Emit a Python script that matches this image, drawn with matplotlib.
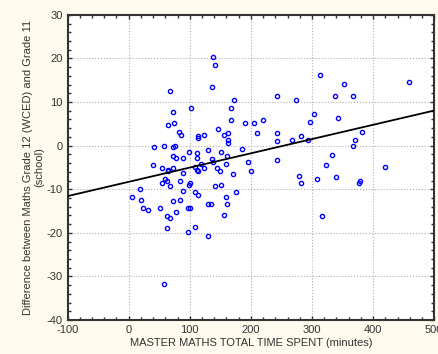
import numpy as np
import matplotlib.pyplot as plt
from matplotlib.ticker import MultipleLocator

plt.rcParams['font.family'] = ['Liberation Sans', 'DejaVu Sans']
plt.rcParams['axes.unicode_minus'] = False

# total time spent (minutes)
time_spent = [138, 141, 136, 67, 313, 353, 459, 242, 274, 338, 367, 173, 102, 168,
              72, 303, 168, 220, 342, 74, 65, 190, 205, 296, 146, 82, 86, 124, 114,
              114, 156, 163, 163, 163, 210, 242, 242, 267, 282, 293, 371, 382, 42,
              57, 72, 75, 367, 99, 129, 151, 186, 112, 112, 72, 77, 89, 161, 136,
              138, 118, 159, 242, 195, 333, 323, 40, 55, 72, 65, 65, 109, 112, 114,
              124, 144, 149, 89, 171, 200, 420, 279, 308, 340, 60, 62, 55, 84, 99,
              101, 67, 151, 141, 282, 379, 377, 18, 89, 109, 114, 175, 159, 5, 20,
              84, 72, 129, 134, 161, 23, 31, 52, 97, 101, 77, 62, 67, 156, 316, 62,
              109, 97, 129, 57]
# grade 12 minus grade 11 difference
grade_diff = [20.4, 18.4, 13.5, 12.5, 16.2, 14.2, 14.5, 11.4, 10.4, 11.4, 11.4, 10.4,
              8.6, 8.6, 7.7, 7.3, 5.9, 5.9, 6.3, 5.2, 4.8, 5.2, 5.2, 5.5, 3.8, 3.1,
              2.4, 2.4, 2.1, 1.8, 2.4, 2.8, 1.4, 0.7, 2.8, 2.8, 1.1, 1.4, 2.1, 1.4,
              1.4, 3.1, -0.3, 0.0, -0.3, 0.0, 0.0, -1.4, -1.0, -1.4, -0.7, -1.7,
              -2.8, -2.4, -2.8, -2.8, -2.4, -3.1, -3.8, -4.1, -4.1, -3.4, -3.8, -2.1,
              -4.5, -4.5, -5.2, -5.2, -5.5, -5.9, -4.8, -5.5, -5.9, -5.2, -5.2, -5.9,
              -6.2, -6.6, -5.9, -4.8, -6.9, -7.6, -7.3, -7.7, -8.0, -8.6, -8.0, -9.0,
              -8.6, -9.3, -9.0, -9.3, -8.6, -8.0, -8.6, -10.0, -10.4, -10.7, -11.4,
              -10.7, -11.8, -11.8, -12.5, -12.5, -12.8, -13.5, -13.5, -13.5, -14.2,
              -14.8, -14.2, -14.2, -14.2, -15.2, -16.2, -16.6, -15.9, -16.2, -19.0,
              -18.7, -19.7, -20.7, -31.8]

# fitted line
fit_intercept = -8.3
fit_slope = 0.0327

fig = plt.figure(figsize=(4.39, 3.54), dpi=100, facecolor='#fffaee')
ax = fig.add_axes([0.154, 0.096, 0.835, 0.862])

ax.plot(time_spent, grade_diff, 'o', ms=3.0, mfc='none', mec='#0000ff', mew=1.0, zorder=3)

xs = np.array([-100, 500])
ax.plot(xs, fit_intercept + fit_slope * xs, color='black', lw=1.3, zorder=4)

ax.set_xlim(-100, 500)
ax.set_ylim(-40, 30)
ax.xaxis.set_major_locator(MultipleLocator(100))
ax.xaxis.set_minor_locator(MultipleLocator(20))
ax.yaxis.set_major_locator(MultipleLocator(10))
ax.yaxis.set_minor_locator(MultipleLocator(2))
ax.tick_params(which='both', direction='in', top=True, right=True, labelsize=8,
               colors='#333333', width=1.0)
ax.tick_params(which='major', length=3)
ax.tick_params(which='minor', length=2)
ax.grid(True, which='major', linestyle=':', color='#b0b0b0', lw=0.8)
for s in ax.spines.values():
    s.set_linewidth(1.5)
    s.set_color('#333333')

ax.set_xlabel('MASTER MATHS TOTAL TIME SPENT (minutes)', fontsize=8, labelpad=2,
              color='#333333')
ax.set_ylabel('Difference between Maths Grade 12 (WCED) and Grade 11\n(school)',
              fontsize=8, labelpad=2, color='#333333', linespacing=1.1)

fig.savefig('out.png', dpi=100, facecolor=fig.get_facecolor())
